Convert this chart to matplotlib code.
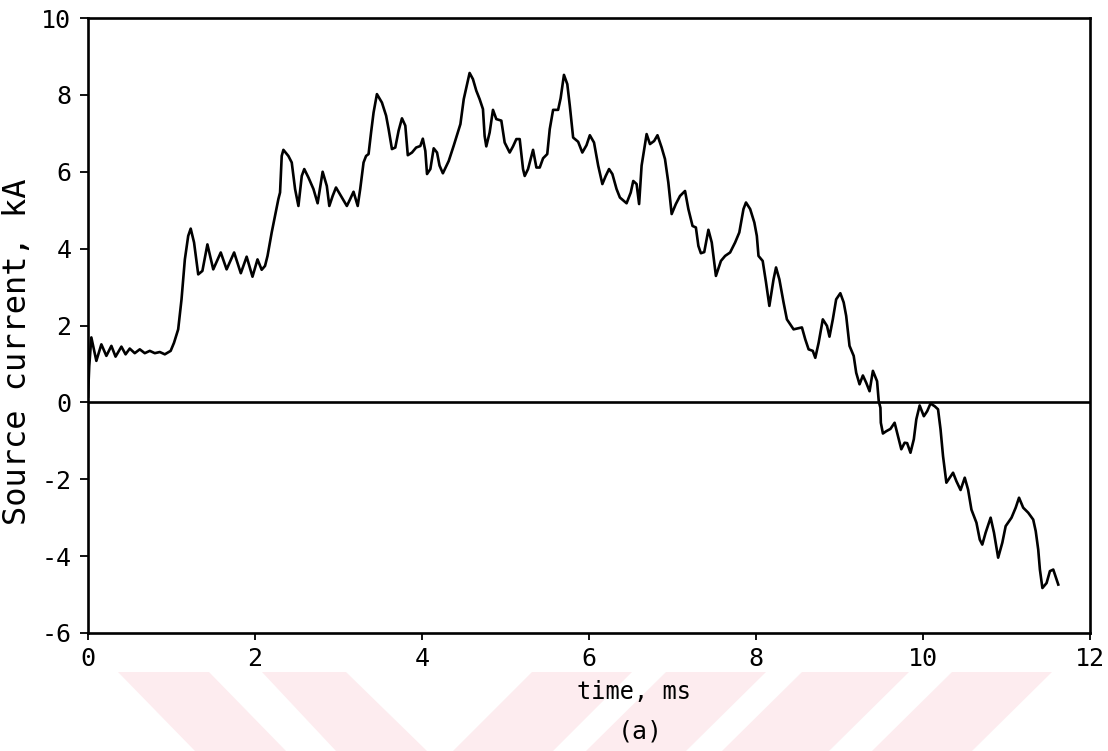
import matplotlib
matplotlib.use("Agg")
import matplotlib.pyplot as plt
from matplotlib.patches import Polygon

plt.rcParams["axes.unicode_minus"] = False
plt.rcParams["font.family"] = ["DejaVu Sans Mono"]

# Source current record (time in ms, current in kA)
time_ms = [
    0.00, 0.015, 0.04, 0.10, 0.16, 0.22, 0.28, 0.33, 0.40, 0.45, 0.50, 0.56,
    0.62, 0.68, 0.74, 0.80, 0.86, 0.92, 0.99, 1.03, 1.08, 1.12, 1.16, 1.20,
    1.23, 1.27, 1.32, 1.37, 1.43, 1.50, 1.59, 1.66, 1.75, 1.83, 1.90, 1.97,
    2.03, 2.08, 2.12, 2.15, 2.20, 2.24, 2.28, 2.30, 2.32, 2.34, 2.40, 2.44,
    2.48, 2.52, 2.56, 2.59, 2.64, 2.70, 2.75, 2.81, 2.86, 2.89, 2.93, 2.97,
    3.03, 3.10, 3.14, 3.18, 3.23, 3.26, 3.30, 3.33, 3.36, 3.39, 3.42, 3.46,
    3.52, 3.57, 3.60, 3.64, 3.68, 3.72, 3.76, 3.80, 3.83, 3.88, 3.93, 3.98,
    4.01, 4.04, 4.06, 4.10, 4.14, 4.18, 4.21, 4.25, 4.32, 4.38, 4.46, 4.50,
    4.57, 4.61, 4.65, 4.69, 4.73, 4.75, 4.77, 4.81, 4.85, 4.89, 4.95, 4.99,
    5.05, 5.09, 5.13, 5.17, 5.21, 5.23, 5.27, 5.33, 5.37, 5.41, 5.45, 5.50,
    5.53, 5.57, 5.63, 5.66, 5.70, 5.74, 5.77, 5.81, 5.87, 5.92, 5.97, 6.01,
    6.06, 6.11, 6.16, 6.20, 6.24, 6.28, 6.33, 6.37, 6.45, 6.50, 6.53, 6.57,
    6.60, 6.63, 6.69, 6.73, 6.78, 6.82, 6.87, 6.91, 6.95, 6.99, 7.04, 7.09,
    7.15, 7.19, 7.24, 7.28, 7.31, 7.34, 7.38, 7.43, 7.47, 7.52, 7.58, 7.63,
    7.69, 7.75, 7.80, 7.85, 7.88, 7.93, 7.98, 8.01, 8.03, 8.08, 8.12, 8.16,
    8.21, 8.24, 8.28, 8.33, 8.37, 8.45, 8.55, 8.59, 8.63, 8.68, 8.71, 8.75,
    8.80, 8.85, 8.88, 8.92, 8.96, 9.01, 9.05, 9.08, 9.12, 9.17, 9.20, 9.24,
    9.28, 9.32, 9.36, 9.40, 9.45, 9.47, 9.49, 9.495, 9.52, 9.56, 9.61, 9.66,
    9.70, 9.74, 9.78, 9.81, 9.85, 9.89, 9.92, 9.96, 10.01, 10.05, 10.09, 10.14,
    10.18, 10.21, 10.24, 10.28, 10.32, 10.36, 10.40, 10.45, 10.50, 10.54, 10.58, 10.64,
    10.68, 10.71, 10.75, 10.81, 10.85, 10.90, 10.95, 10.99, 11.06, 11.11, 11.15, 11.20,
    11.26, 11.32, 11.35, 11.38, 11.40, 11.43, 11.48, 11.52, 11.56, 11.62,
]
current_ka = [
    0.15, 0.95, 1.69, 1.08, 1.51, 1.21, 1.47, 1.19, 1.45, 1.25, 1.40, 1.28,
    1.38, 1.28, 1.34, 1.28, 1.31, 1.25, 1.34, 1.55, 1.90, 2.68, 3.72, 4.33,
    4.52, 4.16, 3.33, 3.42, 4.11, 3.46, 3.90, 3.46, 3.90, 3.36, 3.79, 3.27,
    3.72, 3.45, 3.55, 3.81, 4.42, 4.85, 5.29, 5.46, 6.41, 6.57, 6.41, 6.24,
    5.55, 5.11, 5.89, 6.07, 5.85, 5.55, 5.18, 6.00, 5.63, 5.11, 5.37, 5.59,
    5.37, 5.11, 5.29, 5.48, 5.11, 5.55, 6.24, 6.41, 6.46, 7.02, 7.54, 8.02,
    7.80, 7.46, 7.11, 6.59, 6.63, 7.07, 7.39, 7.20, 6.43, 6.50, 6.63, 6.67,
    6.86, 6.54, 5.94, 6.07, 6.61, 6.50, 6.16, 5.96, 6.28, 6.68, 7.24, 7.89,
    8.57, 8.41, 8.11, 7.89, 7.63, 6.93, 6.66, 7.02, 7.61, 7.37, 7.33, 6.76,
    6.50, 6.66, 6.85, 6.85, 6.07, 5.89, 6.07, 6.57, 6.11, 6.11, 6.35, 6.46,
    7.11, 7.61, 7.61, 7.91, 8.52, 8.28, 7.72, 6.89, 6.78, 6.50, 6.69, 6.95,
    6.76, 6.16, 5.68, 5.89, 6.07, 5.94, 5.55, 5.33, 5.18, 5.46, 5.76, 5.68,
    5.16, 6.16, 6.98, 6.72, 6.80, 6.95, 6.63, 6.33, 5.72, 4.90, 5.16, 5.37,
    5.50, 5.03, 4.59, 4.55, 4.07, 3.88, 3.91, 4.49, 4.16, 3.29, 3.68, 3.81,
    3.90, 4.16, 4.42, 5.03, 5.20, 5.03, 4.68, 4.33, 3.81, 3.68, 3.12, 2.51,
    3.20, 3.51, 3.20, 2.60, 2.16, 1.90, 1.95, 1.64, 1.38, 1.34, 1.16, 1.55,
    2.16, 1.99, 1.71, 2.16, 2.68, 2.84, 2.60, 2.25, 1.47, 1.21, 0.77, 0.47,
    0.70, 0.51, 0.29, 0.82, 0.55, 0.03, -0.14, -0.53, -0.81, -0.75, -0.69, -0.53,
    -0.88, -1.22, -1.05, -1.06, -1.31, -0.96, -0.44, -0.08, -0.36, -0.23, -0.03, -0.10,
    -0.18, -0.70, -1.40, -2.09, -1.96, -1.83, -2.05, -2.28, -1.96, -2.27, -2.79, -3.13,
    -3.57, -3.70, -3.39, -3.00, -3.39, -4.04, -3.65, -3.22, -3.00, -2.74, -2.48, -2.74,
    -2.87, -3.05, -3.35, -3.83, -4.35, -4.83, -4.70, -4.39, -4.35, -4.74,
]

x_ticks = [0, 2, 4, 6, 8, 10, 12]
y_ticks = [-6, -4, -2, 0, 2, 4, 6, 8, 10]

W, H = 1108, 751
fig = plt.figure(figsize=(W / 100, H / 100), dpi=100)
fig.patch.set_facecolor("white")

# light pink diagonal band decoration along the bottom edge
bands = [
    [(118, 672), (209, 672), (286, 751), (195, 751)],
    [(262, 672), (346, 672), (427, 751), (336, 751)],
    [(532, 672), (632, 672), (553, 751), (453, 751)],
    [(666, 672), (766, 672), (686, 751), (586, 751)],
    [(802, 672), (909, 672), (829, 751), (722, 751)],
    [(952, 672), (1052, 672), (972, 751), (872, 751)],
]
for poly in bands:
    pts = [(x / W, 1 - y / H) for x, y in poly]
    fig.patches.append(Polygon(pts, closed=True, transform=fig.transFigure,
                               facecolor="#fdecef", edgecolor="none", zorder=0))

left, right = 88 / W, 1090 / W
bottom, top = 1 - 633 / H, 1 - 18 / H
ax = fig.add_axes([left, bottom, right - left, top - bottom])
ax.set_facecolor("white")

ax.plot(time_ms, current_ka, color="black", lw=1.9, zorder=3)
ax.axhline(0, color="black", lw=1.9, zorder=2)

ax.set_xlim(0, 12)
ax.set_ylim(-6, 10)
ax.set_xticks(x_ticks)
ax.set_yticks(y_ticks)
ax.set_xticklabels([str(v) for v in x_ticks])
ax.set_yticklabels([str(v) for v in y_ticks])

for s in ax.spines.values():
    s.set_linewidth(1.9)
    s.set_color("black")

ax.tick_params(axis="x", direction="out", length=5, width=1.3, pad=5,
               labelsize=18)
ax.tick_params(axis="y", direction="out", length=6, width=1.3, pad=6,
               labelsize=18)

fig.text(18 / W, 1 - 352 / H, "Source current, kA", rotation=90,
         ha="center", va="center", fontsize=23)
fig.text(634 / W, 1 - 692 / H, "time, ms", ha="center", va="center",
         fontsize=17)
fig.text(640 / W, 1 - 731 / H, "(a)", ha="center", va="center",
         fontsize=18)

fig.savefig("out.png", dpi=100)
